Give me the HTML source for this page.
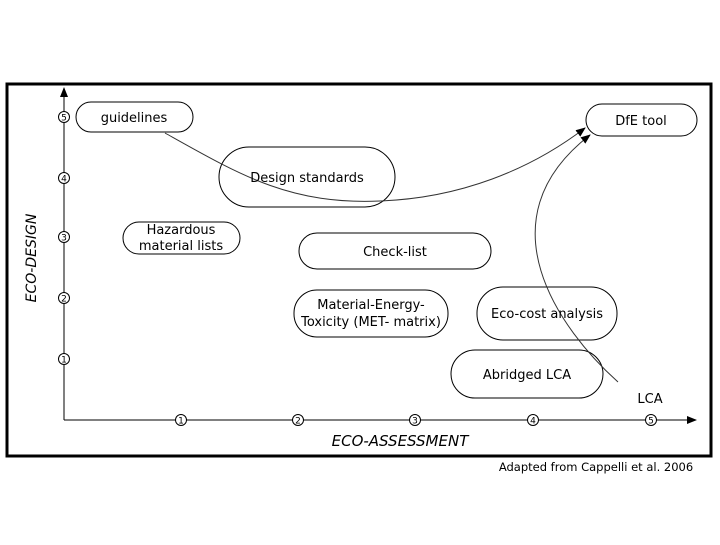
<!DOCTYPE html>
<html><head><style>
body{margin:0;background:#fff;}
svg text{font-family:"DejaVu Sans","Liberation Sans",sans-serif;font-size:13px;fill:#000;}
</style></head><body>
<svg width="720" height="540" xmlns="http://www.w3.org/2000/svg">
<defs><marker id="a" markerWidth="10" markerHeight="8" refX="9" refY="4" orient="auto" markerUnits="userSpaceOnUse"><path d="M0,0 L10,4 L0,8 z" fill="#000"/></marker>
<marker id="s" markerWidth="10" markerHeight="8" refX="9" refY="4" orient="auto" markerUnits="userSpaceOnUse"><path d="M0,0 L10,4 L0,8 z" fill="#000"/></marker></defs>
<rect x="7" y="84" width="704" height="372" fill="#fff" stroke="#000" stroke-width="3"/>
<line x1="64" y1="420" x2="64" y2="88" stroke="#000" marker-end="url(#a)"/>
<line x1="64" y1="420" x2="696" y2="420" stroke="#000" marker-end="url(#a)"/>
<g fill="#fff" stroke="#000" stroke-width="1">
<circle cx="64" cy="117" r="5.5"/><circle cx="64" cy="178" r="5.5"/><circle cx="64" cy="237" r="5.5"/><circle cx="64" cy="298" r="5.5"/><circle cx="64" cy="359" r="5.5"/>
<circle cx="181" cy="420" r="5.5"/><circle cx="298" cy="420" r="5.5"/><circle cx="415" cy="420" r="5.5"/><circle cx="533" cy="420" r="5.5"/><circle cx="651" cy="420" r="5.5"/>
</g>
<g style="font-size:9px" text-anchor="middle">
<text x="64" y="120.5" style="font-size:9px">5</text><text x="64" y="181.5" style="font-size:9px">4</text><text x="64" y="240.5" style="font-size:9px">3</text><text x="64" y="301.5" style="font-size:9px">2</text><text x="64" y="362.5" style="font-size:9px">1</text>
<text x="181" y="423.5" style="font-size:9px">1</text><text x="298" y="423.5" style="font-size:9px">2</text><text x="415" y="423.5" style="font-size:9px">3</text><text x="533" y="423.5" style="font-size:9px">4</text><text x="651" y="423.5" style="font-size:9px">5</text>
</g>
<g fill="#fff" stroke="#000" stroke-width="1">
<rect x="76" y="102" width="117" height="30" rx="15"/>
<rect x="586" y="104" width="111" height="32" rx="16"/>
<rect x="219" y="147" width="176" height="60" rx="30"/>
<rect x="123" y="222" width="117" height="32" rx="16"/>
<rect x="299" y="233" width="192" height="36" rx="18"/>
<rect x="294" y="290" width="154" height="47" rx="23"/>
<rect x="477" y="287" width="140" height="53" rx="26"/>
<rect x="451" y="350" width="152" height="48" rx="24"/>
</g>
<path d="M165,133 C240,175 290,205 380,201 C460,198 530,170 585,128" fill="none" stroke="#333" marker-end="url(#s)"/>
<path d="M618,382 C560,330 480,220 590,135" fill="none" stroke="#333" marker-end="url(#s)"/>
<g text-anchor="middle">
<text x="134" y="122">guidelines</text>
<text x="641" y="125">DfE tool</text>
<text x="307" y="182">Design standards</text>
<text x="181" y="234">Hazardous</text><text x="181" y="250">material lists</text>
<text x="395" y="256">Check-list</text>
<text x="371" y="309">Material-Energy-</text><text x="371" y="326">Toxicity (MET- matrix)</text>
<text x="547" y="318">Eco-cost analysis</text>
<text x="527" y="379">Abridged LCA</text>
<text x="650" y="403">LCA</text>
<text x="400" y="446" style="font-size:15px;font-style:italic">ECO-ASSESSMENT</text>
<text transform="translate(36,258) rotate(-90)" style="font-size:14px;font-style:italic">ECO-DESIGN</text>
<text x="596" y="471" style="font-size:11.5px">Adapted from Cappelli et al. 2006</text>
</g>
</svg>
</body></html>
